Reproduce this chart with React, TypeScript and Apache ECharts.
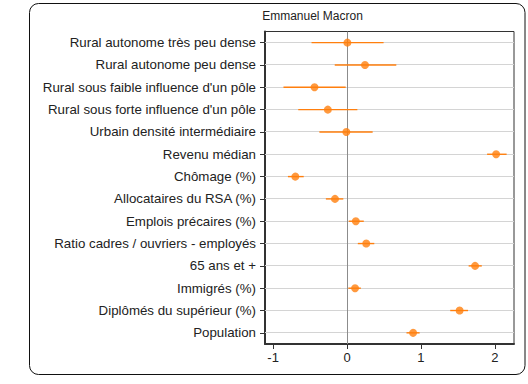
import React, { useEffect, useRef } from "react";
import * as echarts from "echarts";

const TITLE = "Emmanuel Macron";

const categories = [
  "Rural autonome très peu dense",
  "Rural autonome peu dense",
  "Rural sous faible influence d'un pôle",
  "Rural sous forte influence d'un pôle",
  "Urbain densité intermédiaire",
  "Revenu médian",
  "Chômage (%)",
  "Allocataires du RSA (%)",
  "Emplois précaires (%)",
  "Ratio cadres / ouvriers - employés",
  "65 ans et +",
  "Immigrés (%)",
  "Diplômés du supérieur (%)",
  "Population",
];

const estimates = [0.005, 0.243, -0.44, -0.26, -0.009, 2.018, -0.7, -0.163, 0.119, 0.26, 1.733, 0.109, 1.524, 0.894];
const lowerCI = [-0.48, -0.166, -0.86, -0.66, -0.374, 1.896, -0.8, -0.286, 0.023, 0.146, 1.646, 0.018, 1.397, 0.805];
const upperCI = [0.495, 0.667, -0.018, 0.14, 0.347, 2.16, -0.586, -0.05, 0.227, 0.369, 1.824, 0.187, 1.638, 0.983];

const xTicks = [-1, 0, 1, 2];
const xMin = -1.11;
const xMax = 2.26;
const referenceX = 0;

const FONT = "'Liberation Sans', Arial, Helvetica, sans-serif";
const ORANGE = "#ff7f0e";

const crisp = (v: number) => Math.round(v - 0.5) + 0.5;

export default function App() {
  const ref = useRef<HTMLDivElement>(null);

  useEffect(() => {
    document.body.style.margin = "0";
    if (!ref.current) return;
    const chart = echarts.init(ref.current, undefined, { renderer: "svg" });

    const gridData = categories.map((_, i) => [xMin, i]);
    const ciData = categories.map((_, i) => [lowerCI[i], upperCI[i], i]);
    const pointData = categories.map((_, i) => [estimates[i], i]);

    chart.setOption({
      animation: false,
      textStyle: { fontFamily: FONT },
      graphic: [
        {
          type: "rect",
          shape: { x: 29.5, y: 3.5, width: 495.5, height: 371, r: 9 },
          style: { fill: "none", stroke: "#111", lineWidth: 1 },
          silent: true,
          z: 0,
        },
        {
          type: "text",
          x: 312.5,
          y: 15.5,
          style: {
            text: TITLE,
            fill: "#222",
            font: `12px ${FONT}`,
            textAlign: "center",
            textVerticalAlign: "middle",
          },
          z: 10,
        },
      ],
      grid: {
        left: 265,
        right: 14,
        top: 31.5,
        bottom: 40,
        show: true,
        borderColor: "#333",
        borderWidth: 1,
        backgroundColor: "transparent",
      },
      xAxis: {
        type: "value",
        min: xMin,
        max: xMax,
        axisLine: { show: true, onZero: false, lineStyle: { color: "#333", width: 2 } },
        axisTick: { show: true, length: 5, customValues: xTicks, lineStyle: { color: "#333", width: 1 } },
        axisLabel: { customValues: xTicks, color: "#222", fontSize: 13, fontFamily: FONT, margin: 7 },
        splitLine: { show: false },
      },
      yAxis: {
        type: "category",
        data: categories,
        inverse: true,
        axisLine: { show: true, onZero: false, lineStyle: { color: "#333", width: 2 } },
        axisTick: { show: true, alignWithLabel: true, length: 5, lineStyle: { color: "#333", width: 1 } },
        axisLabel: { color: "#222", fontSize: 13.3, fontFamily: FONT, margin: 9 },
        splitLine: { show: false },
      },
      series: [
        {
          type: "custom",
          z: 1,
          silent: true,
          clip: false,
          data: gridData,
          encode: { x: 0, y: 1 },
          renderItem: (params: any, api: any) => {
            const cs = params.coordSys;
            const p = api.coord([api.value(0), api.value(1)]);
            const y = crisp(p[1]);
            return {
              type: "line",
              shape: { x1: cs.x, y1: y, x2: cs.x + cs.width, y2: y },
              style: { stroke: "#d4d4d4", lineWidth: 1 },
            };
          },
        },
        {
          type: "custom",
          z: 2,
          silent: true,
          clip: false,
          data: [[referenceX, 0]],
          encode: { x: 0, y: 1 },
          renderItem: (params: any, api: any) => {
            const cs = params.coordSys;
            const p = api.coord([api.value(0), api.value(1)]);
            const x = crisp(p[0]);
            return {
              type: "line",
              shape: { x1: x, y1: cs.y, x2: x, y2: cs.y + cs.height },
              style: { stroke: "#8c8c8c", lineWidth: 1 },
            };
          },
        },
        {
          type: "custom",
          z: 3,
          silent: true,
          data: ciData,
          encode: { x: [0, 1], y: 2 },
          renderItem: (params: any, api: any) => {
            const a = api.coord([api.value(0), api.value(2)]);
            const b = api.coord([api.value(1), api.value(2)]);
            return {
              type: "line",
              shape: { x1: a[0], y1: a[1], x2: b[0], y2: b[1] },
              style: { stroke: ORANGE, lineWidth: 1.4 },
            };
          },
        },
        {
          type: "scatter",
          z: 4,
          data: pointData,
          symbol: "circle",
          symbolSize: 8,
          itemStyle: { color: ORANGE },
        },
      ],
    });

    return () => chart.dispose();
  }, []);

  return <div ref={ref} style={{ width: 528, height: 384 }} />;
}
